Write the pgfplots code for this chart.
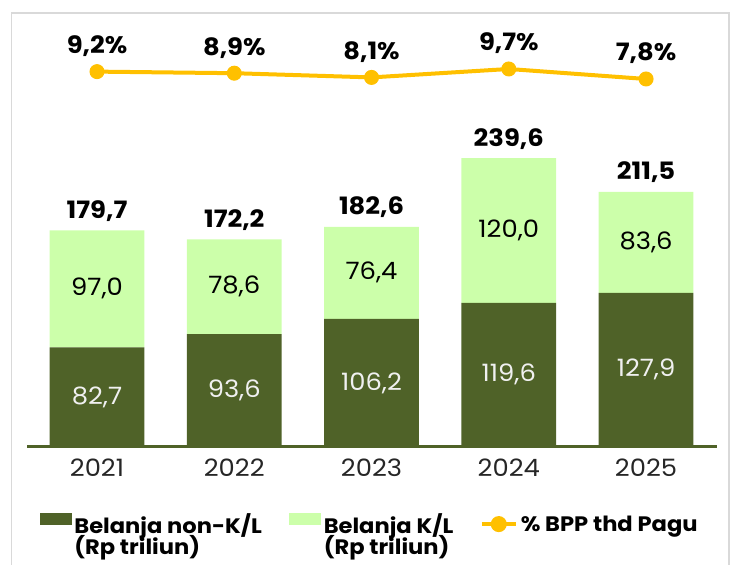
\documentclass[border=0pt]{standalone}
\usepackage{fontspec}
\setmainfont{Poppins}[FakeStretch=1.08]
\usepackage{pgfplots}
\usepackage{pgfplotstable}
\pgfplotsset{compat=1.18}
\definecolor{olivedark}{RGB}{79,98,40}
\definecolor{palegreen}{RGB}{204,255,170}
\definecolor{gold}{RGB}{255,192,0}
\definecolor{framegray}{RGB}{217,217,217}

\pgfplotstableread{
x nonkl kl total pct
0 82.7 97.0 179.7 9.2
1 93.6 78.6 172.2 8.9
2 106.2 76.4 182.6 8.1
3 119.6 120.0 239.6 9.7
4 127.9 83.6 211.5 7.8
}\datatable

\pgfplotsset{
  base/.style={
    at={(0,0)}, anchor=south west,
    scale only axis, width=690bp, height=417bp,
    xmin=-0.51, xmax=4.517, clip=false,
    /pgf/number format/.cd, use comma, fixed, fixed zerofill, precision=1,
      1000 sep={}, assume math mode=true, /pgfplots/.cd,
  },
}

\begin{document}
\begin{tikzpicture}[x=1bp,y=1bp]
\path[use as bounding box] (-27,-118) rectangle (707,447);
\draw[framegray, line width=1.2bp] (-15.5,-120) -- (-15.5,434) -- (702,434) -- (702,-120);

% bars
\begin{axis}[base,
  ybar stacked, bar width=0.69,
  ymin=0, ymax=345.8,
  axis x line*=bottom, axis y line=none,
  axis line style={olivedark, line width=3bp, -},
  xtick=data, xticklabels={2021,2022,2023,2024,2025},
  major tick length=0pt,
  xticklabel style={font=\fontsize{24}{24}\selectfont, text=black!85, yshift=-8bp},
]
\addplot[fill=olivedark, draw=none] table[x=x, y=nonkl] {\datatable};
\addplot[fill=palegreen, draw=none] table[x=x, y=kl] {\datatable};
\end{axis}

% value labels
\begin{axis}[base, hide axis, ymin=0, ymax=345.8]
\addplot[draw=none, nodes near coords, point meta=explicit,
  every node near coord/.append style={anchor=center, text=white!94!black,
    font=\fontsize{24}{24}\selectfont}]
  table[x=x, y expr=\thisrow{nonkl}/2, meta=nonkl] {\datatable};
\addplot[draw=none, nodes near coords, point meta=explicit,
  every node near coord/.append style={anchor=center, text=black,
    font=\fontsize{24}{24}\selectfont}]
  table[x=x, y expr=\thisrow{nonkl}+\thisrow{kl}/2, meta=kl] {\datatable};
\addplot[draw=none, nodes near coords, point meta=explicit,
  every node near coord/.append style={anchor=base, inner sep=0pt, yshift=12bp,
    text=black, font=\fontsize{24}{24}\selectfont\bfseries}]
  table[x=x, y=total, meta=total] {\datatable};
\end{axis}

% percentage line and legend
\begin{axis}[base, hide axis, ymin=-62.12, ymax=17.11,
  legend columns=3,
  legend style={at={(axis description cs:0.0188,-0.158)}, anchor=north west,
    draw=none, fill=none, inner sep=0pt, outer sep=0pt,
    font=\fontsize{21}{23}\selectfont\bfseries,
    nodes={inner sep=0pt},
    /tikz/every odd column/.append style={column sep=3bp},
    row sep=1bp},
  legend cell align=left,
]
\addlegendimage{legend image code/.code={\fill[olivedark] (0bp,0bp) rectangle (31bp,11bp);
  \pgfsetbaseline{5bp}}}
\addlegendentry{\makebox[215bp][l]{Belanja non-K/L}}
\addlegendimage{legend image code/.code={\fill[palegreen] (0bp,0bp) rectangle (31bp,11bp);
  \pgfsetbaseline{5bp}}}
\addlegendentry{\makebox[156bp][l]{Belanja K/L}}
\addplot[gold, line width=4bp, mark=*, mark size=7bp,
  mark options={fill=gold, draw=gold, line width=1bp},
  legend image code/.code={\draw[gold, line width=4bp] (0bp,0bp) -- (34bp,0bp);
    \fill[gold] (17bp,0bp) circle (6bp); \pgfsetbaseline{-1bp}},
  nodes near coords={\pgfmathprintnumber{\pgfplotspointmeta}\%}, point meta=explicit,
  every node near coord/.append style={anchor=base, inner sep=0pt, yshift=18bp,
    text=black, font=\fontsize{24}{24}\selectfont\bfseries}]
  table[x=x, y=pct, meta=pct] {\datatable};
\addlegendentry{\% BPP thd Pagu}
\addlegendimage{empty legend}
\addlegendentry{(Rp triliun)}
\addlegendimage{empty legend}
\addlegendentry{(Rp triliun)}
\addlegendimage{empty legend}
\addlegendentry{}
\end{axis}
\end{tikzpicture}
\end{document}
